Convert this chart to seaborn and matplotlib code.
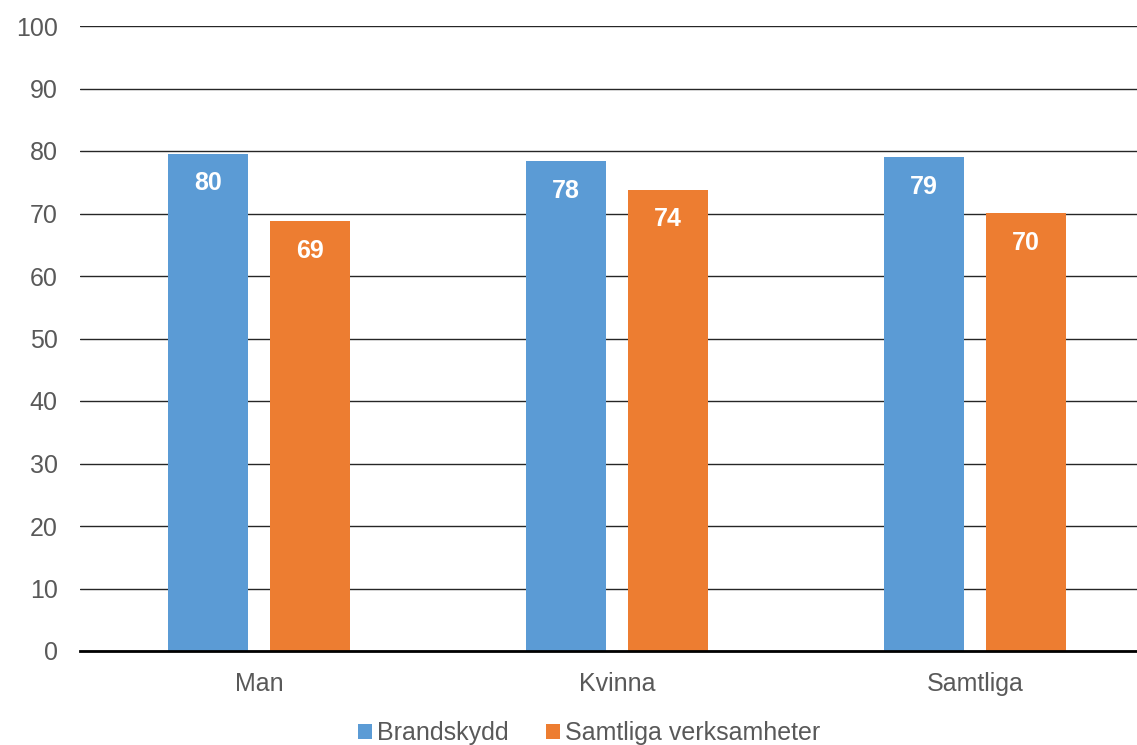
import matplotlib
matplotlib.use("Agg")
import matplotlib.pyplot as plt
import seaborn as sns
import pandas as pd

categories = ["Man", "Kvinna", "Samtliga"]
series_names = ["Brandskydd", "Samtliga verksamheter"]
brandskydd = [79.6, 78.4, 79.0]
samtliga = [68.8, 73.8, 70.1]
yticks = [0, 10, 20, 30, 40, 50, 60, 70, 80, 90, 100]
colors = ["#5B9BD5", "#ED7D31"]

df = pd.DataFrame({
    "cat": categories * 2,
    "series": [series_names[0]] * 3 + [series_names[1]] * 3,
    "value": brandskydd + samtliga,
})

sns.set_theme(style="white")
plt.rcParams["font.family"] = ["Liberation Sans", "DejaVu Sans"]
txt = "#595959"

fig = plt.figure(figsize=(11.37, 7.45), dpi=100)
ax = fig.add_axes([80 / 1137, 94 / 745, 1 - 80 / 1137, (651 - 26) / 745])

sns.barplot(data=df, x="cat", y="value", hue="series", order=categories,
            hue_order=series_names, palette=colors, width=0.57, gap=0.216,
            saturation=1, ax=ax, edgecolor="none")

for cont in ax.containers:
    ax.bar_label(cont, labels=[f"{v:.0f}" for v in cont.datavalues],
                 padding=-30, color="white", fontsize=18, fontweight="bold")

ax.set_ylim(0, 100)
ax.set_xlim(-0.5, 2.453)
ax.set_yticks(yticks)
ax.yaxis.grid(True, color="#262626", linewidth=1.0)
ax.set_axisbelow(True)
for s in ["top", "right", "left"]:
    ax.spines[s].set_visible(False)
ax.spines["bottom"].set_color("black")
ax.spines["bottom"].set_linewidth(2)
ax.tick_params(axis="y", length=0, pad=16, labelsize=18, labelcolor=txt)
ax.tick_params(axis="x", length=0, pad=15, labelsize=18, labelcolor=txt)
ax.set_xlabel("")
ax.set_ylabel("")

sns.move_legend(ax, "center", bbox_to_anchor=(0.518, 12 / 745),
                bbox_transform=fig.transFigure, ncol=2, frameon=False,
                title=None, fontsize=18, handlelength=0.55, handleheight=0.55,
                handletextpad=0.2, columnspacing=1.5, labelcolor=txt)

fig.savefig("out.png", dpi=100)
